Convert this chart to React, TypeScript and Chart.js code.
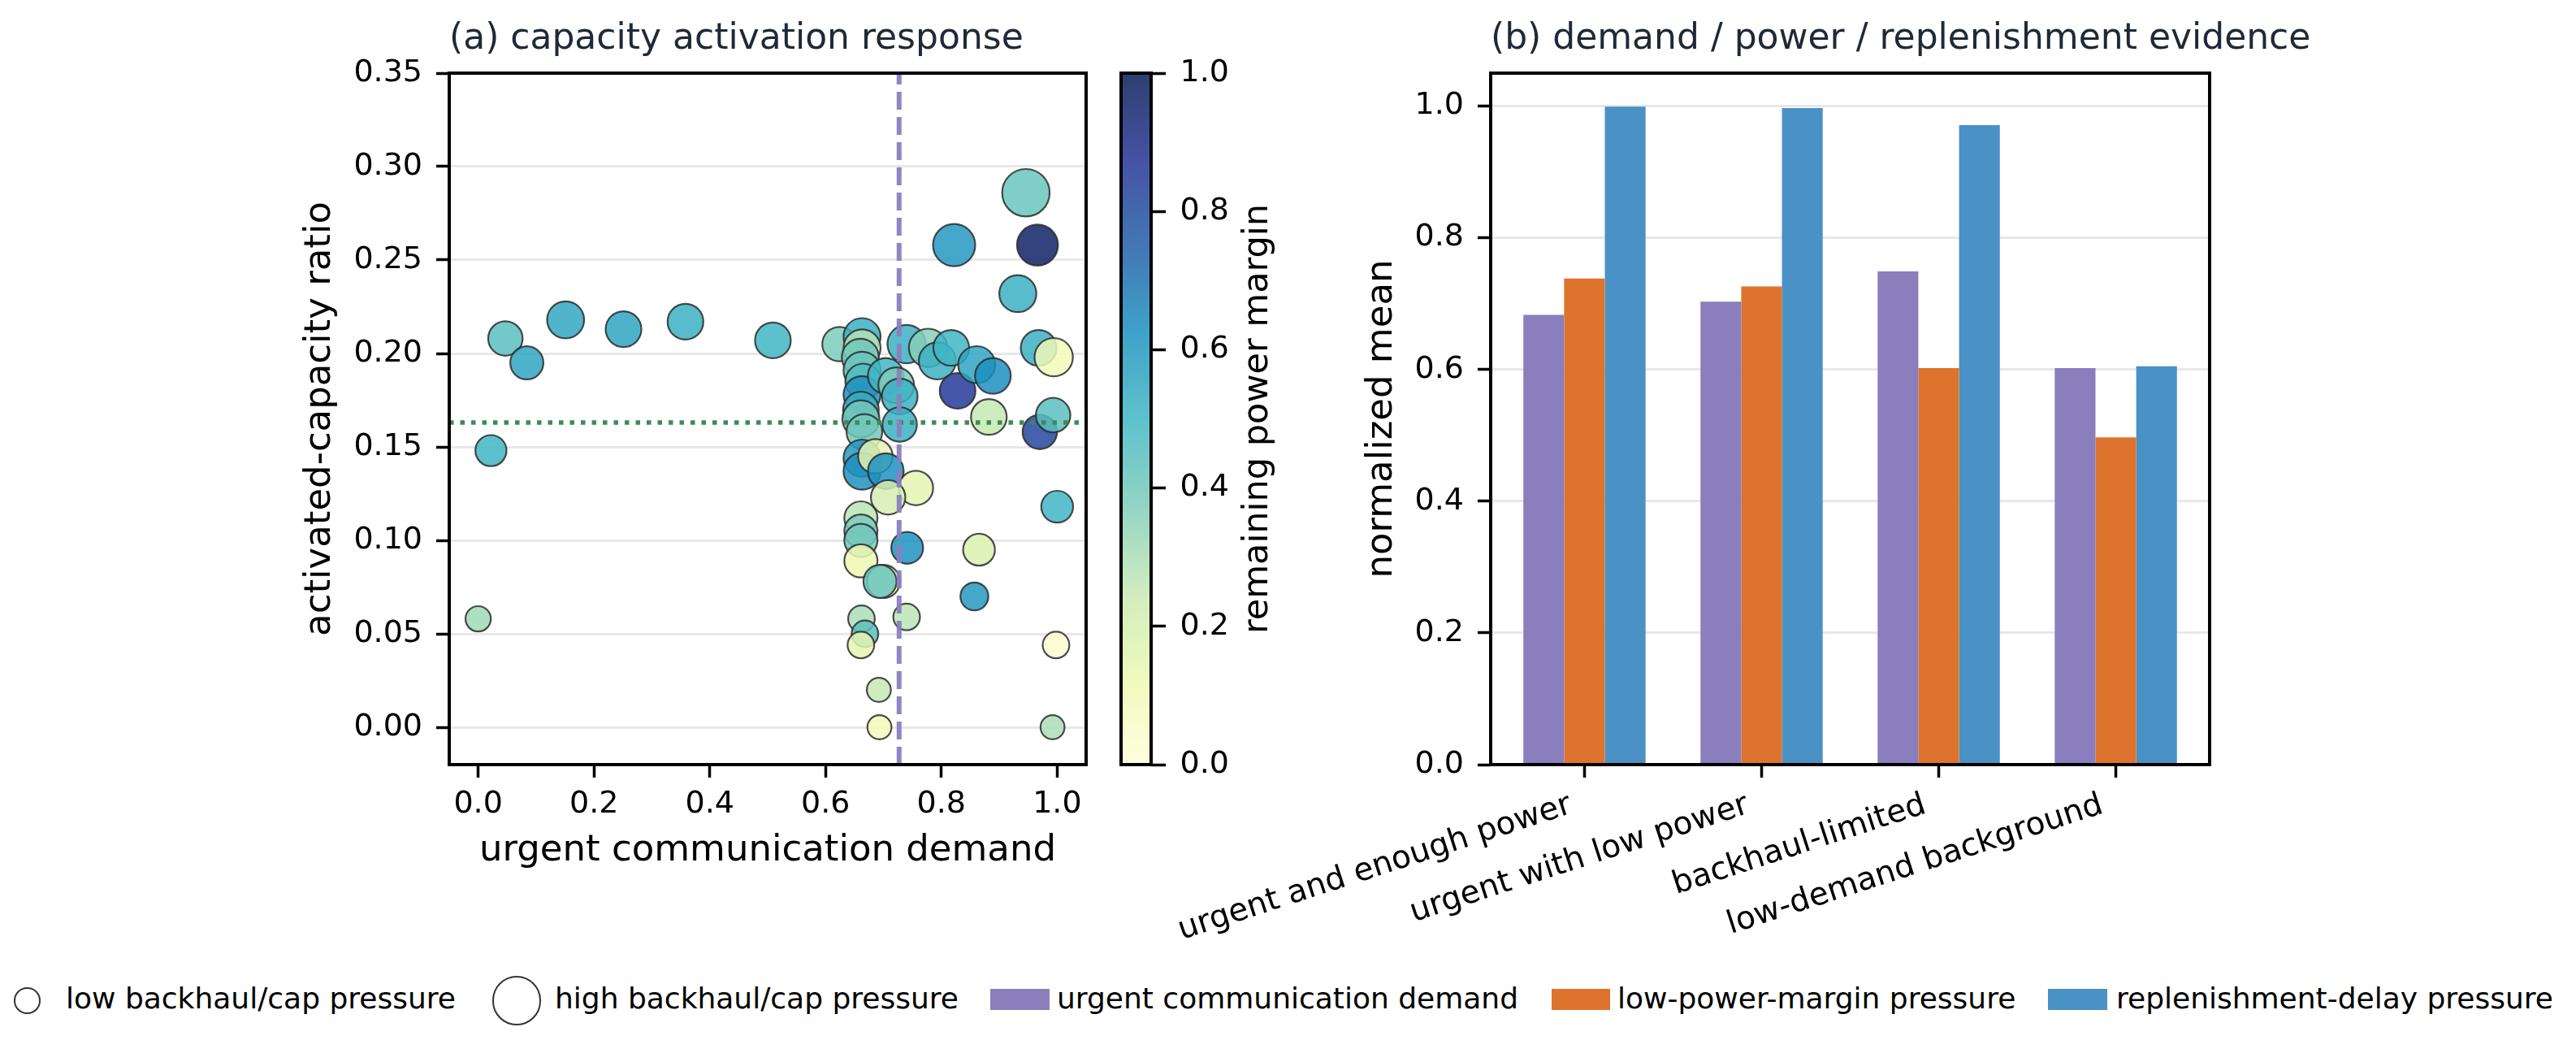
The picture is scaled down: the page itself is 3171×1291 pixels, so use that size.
import React, { useEffect, useRef } from "react";
import { Chart, registerables, ChartConfiguration, Plugin } from "chart.js";

Chart.register(...registerables);
Chart.defaults.font.family = "DejaVu Sans";
Chart.defaults.color = "#000";

// ---- panel (a): capacity activation response ----
const DEMAND = [
  0.0, 0.022, 0.047, 0.084, 0.151, 0.251, 0.358, 0.509, 0.624, 0.663,
  0.663, 0.66, 0.663, 0.665, 0.663, 0.661, 0.661, 0.667, 0.663, 0.663,
  0.686, 0.704, 0.704, 0.722, 0.728, 0.728, 0.74, 0.777, 0.793, 0.817,
  0.828, 0.861, 0.889, 0.882, 0.932, 0.968, 0.994, 0.97, 0.993, 1.0,
  0.946, 0.966, 0.822, 0.756, 0.708, 0.661, 0.661, 0.661, 0.661, 0.7,
  0.694, 0.741, 0.865, 0.857, 0.662, 0.74, 0.668, 0.661, 0.692, 0.693,
  0.998, 0.992,
];
const ACTIVATED = [
  0.058, 0.148, 0.208, 0.195, 0.218, 0.213, 0.217, 0.207, 0.205, 0.209,
  0.203, 0.198, 0.191, 0.185, 0.178, 0.17, 0.165, 0.158, 0.144, 0.137,
  0.145, 0.137, 0.188, 0.183, 0.177, 0.162, 0.205, 0.203, 0.196, 0.203,
  0.18, 0.194, 0.188, 0.166, 0.232, 0.203, 0.198, 0.158, 0.167, 0.118,
  0.286, 0.258, 0.258, 0.128, 0.123, 0.112, 0.105, 0.1, 0.089, 0.078,
  0.078, 0.096, 0.095, 0.07, 0.058, 0.059, 0.05, 0.044, 0.02, 0.0,
  0.044, 0.0,
];
// remaining power margin (colour)
const MARGIN = [
  0.32, 0.5, 0.45, 0.56, 0.55, 0.56, 0.52, 0.5, 0.38, 0.52,
  0.28, 0.4, 0.42, 0.47, 0.62, 0.53, 0.4, 0.4, 0.6, 0.62,
  0.15, 0.62, 0.5, 0.38, 0.52, 0.52, 0.52, 0.36, 0.52, 0.5,
  0.86, 0.56, 0.63, 0.25, 0.52, 0.52, 0.1, 0.82, 0.45, 0.5,
  0.42, 0.97, 0.6, 0.15, 0.2, 0.27, 0.38, 0.4, 0.12, 0.08,
  0.42, 0.62, 0.18, 0.6, 0.3, 0.27, 0.45, 0.15, 0.25, 0.1,
  0.03, 0.3,
];
// backhaul / cap pressure (marker size)
const PRESSURE = [
  0.1, 0.32, 0.45, 0.4, 0.55, 0.5, 0.5, 0.5, 0.45, 0.55,
  0.55, 0.55, 0.55, 0.5, 0.55, 0.5, 0.55, 0.5, 0.55, 0.55,
  0.45, 0.5, 0.5, 0.5, 0.5, 0.45, 0.6, 0.6, 0.55, 0.5,
  0.5, 0.55, 0.5, 0.5, 0.55, 0.5, 0.6, 0.45, 0.45, 0.35,
  0.95, 0.7, 0.75, 0.45, 0.45, 0.4, 0.4, 0.4, 0.4, 0.4,
  0.4, 0.35, 0.35, 0.2, 0.15, 0.15, 0.15, 0.15, 0.05, 0.05,
  0.15, 0.05,
];
const DEMAND_THRESHOLD = 0.727;
const RATIO_THRESHOLD = 0.163;
const X_TICKS_A = [0, 0.2, 0.4, 0.6, 0.8, 1.0];
const Y_TICKS_A = [0, 0.05, 0.1, 0.15, 0.2, 0.25, 0.3, 0.35];
const CBAR_TICKS = [0, 0.2, 0.4, 0.6, 0.8, 1.0];

// ---- panel (b): demand / power / replenishment evidence ----
const GROUPS = [
  "urgent and enough power",
  "urgent with low power",
  "backhaul-limited",
  "low-demand background",
];
const URGENT = [0.683, 0.703, 0.749, 0.602];
const LOW_POWER = [0.738, 0.726, 0.602, 0.497];
const REPLENISH = [0.999, 0.997, 0.971, 0.605];
const Y_TICKS_B = [0, 0.2, 0.4, 0.6, 0.8, 1.0];

const PURPLE = "#8a7fbc";
const ORANGE = "#de732d";
const BLUE = "#4a91c6";
const GREEN = "#3d8b55";
const GRID = "#e8e8e8";

const YLGNBU = [
  "#ffffd9", "#edf8b1", "#c7e9b4", "#7fcdbb", "#41b6c4",
  "#1d91c0", "#225ea8", "#253494", "#081d58",
];

function hexRgb(h: string): number[] {
  return [1, 3, 5].map((i) => parseInt(h.slice(i, i + 2), 16));
}

function ylgnbu(t: number, alpha = 0.85): string {
  const n = YLGNBU.length - 1;
  const p = Math.min(Math.max(t, 0), 1) * n;
  const i = Math.min(Math.floor(p), n - 1);
  const f = p - i;
  const a = hexRgb(YLGNBU[i]);
  const b = hexRgb(YLGNBU[i + 1]);
  const c = a.map((v, k) => Math.round(v + (b[k] - v) * f));
  return `rgba(${c[0]},${c[1]},${c[2]},${alpha})`;
}

const tickFont = { size: 38, lineHeight: 1.2 };
const labelFont = { size: 45, lineHeight: 1.2 };

// full box around the axes, plus panel title / rotated side label
function framePlugin(title?: string, side?: { text: string; dx: number }): Plugin {
  return {
    id: "frame",
    afterDatasetsDraw(chart) {
      const { ctx, chartArea: a } = chart;
      ctx.save();
      ctx.strokeStyle = "#000";
      ctx.lineWidth = 4;
      ctx.strokeRect(a.left, a.top, a.right - a.left, a.bottom - a.top);
      if (title) {
        ctx.font = "44px 'DejaVu Sans'";
        ctx.fillStyle = "#1f2937";
        ctx.textAlign = "left";
        ctx.textBaseline = "alphabetic";
        ctx.fillText(title, a.left, 59.5);
      }
      if (side) {
        ctx.translate(a.right + side.dx, (a.top + a.bottom) / 2);
        ctx.rotate(-Math.PI / 2);
        ctx.font = "43px 'DejaVu Sans'";
        ctx.fillStyle = "#000";
        ctx.textAlign = "center";
        ctx.textBaseline = "middle";
        ctx.fillText(side.text, 0, 0);
      }
      ctx.restore();
    },
  };
}

const ScatterPanel: React.FC = () => {
  const ref = useRef<HTMLCanvasElement>(null);
  useEffect(() => {
    if (!ref.current) return;
    const points = DEMAND.map((x, i) => ({ x, y: ACTIVATED[i] }));
    const config: ChartConfiguration = {
      type: "scatter",
      data: {
        datasets: [
          {
            data: [
              { x: DEMAND_THRESHOLD, y: -0.02 },
              { x: DEMAND_THRESHOLD, y: 0.35 },
            ],
            showLine: true,
            borderColor: "rgba(138,127,190,0.95)",
            borderWidth: 6,
            borderDash: [22, 9],
            pointRadius: 0,
          } as any,
          {
            data: [
              { x: -0.05, y: RATIO_THRESHOLD },
              { x: 1.05, y: RATIO_THRESHOLD },
            ],
            showLine: true,
            borderColor: GREEN,
            borderWidth: 5.5,
            borderDash: [5.5, 8],
            pointRadius: 0,
          } as any,
          {
            data: points,
            pointRadius: PRESSURE.map((p) => 14 + 16 * p),
            pointBackgroundColor: MARGIN.map((m) => ylgnbu(m)),
            pointBorderColor: "rgba(45,45,45,0.85)",
            pointBorderWidth: 2.2,
          } as any,
        ],
      },
      options: {
        responsive: false,
        animation: false,
        events: [],
        layout: { padding: { top: 90, right: 63, bottom: 0, left: 0 } },
        plugins: { legend: { display: false }, tooltip: { enabled: false } },
        scales: {
          x: {
            type: "linear",
            min: -0.05,
            max: 1.05,
            afterBuildTicks: (s: any) => {
              s.ticks = X_TICKS_A.map((value) => ({ value }));
            },
            afterFit: (s: any) => {
              s.height = 159;
            },
            ticks: {
              font: tickFont,
              padding: 10,
              callback: (v: any) => Number(v).toFixed(1),
            },
            grid: {
              drawOnChartArea: false,
              drawTicks: true,
              tickLength: 16,
              color: "#000",
              tickColor: "#000",
              tickWidth: 3.5,
            },
            border: { display: false },
            title: {
              display: true,
              text: "urgent communication demand",
              font: labelFont,
              padding: { top: 0, bottom: 25.5 },
            },
          },
          y: {
            type: "linear",
            min: -0.02,
            max: 0.35,
            afterBuildTicks: (s: any) => {
              s.ticks = Y_TICKS_A.map((value) => ({ value }));
            },
            afterFit: (s: any) => {
              s.width = 553;
            },
            ticks: {
              font: tickFont,
              padding: 17,
              callback: (v: any) => Number(v).toFixed(2),
            },
            grid: {
              color: GRID,
              lineWidth: 3,
              drawTicks: true,
              tickLength: 16,
              tickColor: "#000",
              tickWidth: 3.5,
            },
            border: { display: false },
            title: {
              display: true,
              text: "activated-capacity ratio",
              font: labelFont,
              padding: { top: 367, bottom: 0 },
            },
          },
        },
      },
      plugins: [framePlugin("(a) capacity activation response")],
    };
    const chart = new Chart(ref.current, config);
    return () => chart.destroy();
  }, []);
  return (
    <canvas
      ref={ref}
      width={1400}
      height={1100}
      style={{ position: "absolute", left: 0, top: 0, width: 1400, height: 1100 }}
    />
  );
};

const ColorbarPanel: React.FC = () => {
  const ref = useRef<HTMLCanvasElement>(null);
  useEffect(() => {
    if (!ref.current) return;
    const config: ChartConfiguration = {
      type: "bar",
      data: {
        labels: [""],
        datasets: [
          {
            data: [1],
            borderWidth: 0,
            barPercentage: 1,
            categoryPercentage: 1,
            backgroundColor: (c: any) => {
              const area = c.chart.chartArea;
              if (!area) return "#ccc";
              const g = c.chart.ctx.createLinearGradient(0, area.bottom, 0, area.top);
              for (let i = 0; i <= 40; i++) g.addColorStop(i / 40, ylgnbu(i / 40));
              return g;
            },
          } as any,
        ],
      },
      options: {
        responsive: false,
        animation: false,
        events: [],
        layout: { padding: { top: 90, right: 0, bottom: 159, left: 20 } },
        plugins: { legend: { display: false }, tooltip: { enabled: false } },
        scales: {
          x: { display: false },
          y: {
            position: "right",
            min: 0,
            max: 1,
            afterBuildTicks: (s: any) => {
              s.ticks = CBAR_TICKS.map((value) => ({ value }));
            },
            afterFit: (s: any) => {
              s.width = 203;
            },
            ticks: {
              font: tickFont,
              padding: 17.5,
              callback: (v: any) => Number(v).toFixed(1),
            },
            grid: {
              drawOnChartArea: false,
              drawTicks: true,
              tickLength: 18,
              color: "#000",
              tickColor: "#000",
              tickWidth: 3.5,
            },
            border: { display: false },
          },
        },
      },
      plugins: [framePlugin(undefined, { text: "remaining power margin", dx: 132 })],
    };
    const chart = new Chart(ref.current, config);
    return () => chart.destroy();
  }, []);
  return (
    <canvas
      ref={ref}
      width={260}
      height={1100}
      style={{ position: "absolute", left: 1360, top: 0, width: 260, height: 1100 }}
    />
  );
};

const BarPanel: React.FC = () => {
  const ref = useRef<HTMLCanvasElement>(null);
  useEffect(() => {
    if (!ref.current) return;
    const series = (vals: number[]) => vals.map((y, x) => ({ x, y }));
    const config: ChartConfiguration = {
      type: "bar",
      data: {
        datasets: [
          { label: "urgent communication demand", data: series(URGENT), backgroundColor: PURPLE },
          { label: "low-power-margin pressure", data: series(LOW_POWER), backgroundColor: ORANGE },
          { label: "replenishment-delay pressure", data: series(REPLENISH), backgroundColor: BLUE },
        ] as any,
      },
      options: {
        responsive: false,
        animation: false,
        events: [],
        datasets: { bar: { barPercentage: 1, categoryPercentage: 0.69, borderWidth: 0 } },
        layout: { padding: { top: 90, right: 160, bottom: 0, left: 0 } },
        plugins: { legend: { display: false }, tooltip: { enabled: false } },
        scales: {
          x: {
            type: "linear",
            offset: false,
            min: -0.5295,
            max: 3.5295,
            afterBuildTicks: (s: any) => {
              s.ticks = GROUPS.map((_, value) => ({ value }));
            },
            afterFit: (s: any) => {
              s.height = 239;
            },
            ticks: {
              font: { size: 39, lineHeight: 1.2 },
              padding: 10.9,
              labelOffset: -16.9,
              autoSkip: false,
              minRotation: 18,
              maxRotation: 18,
              callback: (v: any) => GROUPS[Math.round(Number(v))] ?? "",
            },
            grid: {
              offset: false,
              drawOnChartArea: false,
              drawTicks: true,
              tickLength: 16,
              color: "#000",
              tickColor: "#000",
              tickWidth: 3.5,
            },
            border: { display: false },
          },
          y: {
            min: 0,
            max: 1.05,
            afterBuildTicks: (s: any) => {
              s.ticks = Y_TICKS_B.map((value) => ({ value }));
            },
            afterFit: (s: any) => {
              s.width = 455;
            },
            ticks: {
              font: tickFont,
              padding: 17,
              callback: (v: any) => Number(v).toFixed(1),
            },
            grid: {
              color: GRID,
              lineWidth: 3,
              drawTicks: true,
              tickLength: 16,
              tickColor: "#000",
              tickWidth: 3.5,
            },
            border: { display: false },
            title: {
              display: true,
              text: "normalized mean",
              font: labelFont,
              padding: { top: 294, bottom: 0 },
            },
          },
        },
      },
      plugins: [framePlugin("(b) demand / power / replenishment evidence")],
    };
    const chart = new Chart(ref.current, config);
    return () => chart.destroy();
  }, []);
  return (
    <canvas
      ref={ref}
      width={1500}
      height={1180}
      style={{ position: "absolute", left: 1380, top: 0, width: 1500, height: 1180 }}
    />
  );
};

const legendText: React.CSSProperties = {
  position: "absolute",
  top: 1210.5,
  fontFamily: "'DejaVu Sans'",
  fontSize: 36,
  lineHeight: "36px",
  whiteSpace: "nowrap",
  color: "#000",
};

const circle = (cx: number, r: number): React.CSSProperties => ({
  position: "absolute",
  left: cx - r - 1.25,
  top: 1231.6 - r - 1.25,
  width: 2 * r + 2.5,
  height: 2 * r + 2.5,
  boxSizing: "border-box",
  border: "2.5px solid #333",
  borderRadius: "50%",
  background: "#fff",
});

const patch = (left: number, width: number, color: string): React.CSSProperties => ({
  position: "absolute",
  left,
  top: 1217,
  width,
  height: 26,
  background: color,
});

const Legend: React.FC = () => (
  <>
    <div style={circle(33.7, 15)} />
    <div style={{ ...legendText, left: 81 }}>low backhaul/cap pressure</div>
    <div style={circle(636, 29)} />
    <div style={{ ...legendText, left: 683 }}>high backhaul/cap pressure</div>
    <div style={patch(1219, 73, PURPLE)} />
    <div style={{ ...legendText, left: 1301 }}>urgent communication demand</div>
    <div style={patch(1910, 72, ORANGE)} />
    <div style={{ ...legendText, left: 1991 }}>low-power-margin pressure</div>
    <div style={patch(2521, 73, BLUE)} />
    <div style={{ ...legendText, left: 2605 }}>replenishment-delay pressure</div>
  </>
);

const App: React.FC = () => (
  <div
    style={{
      position: "absolute",
      left: 0,
      top: 0,
      width: 3171,
      height: 1291,
      background: "#fff",
      overflow: "hidden",
    }}
  >
    <ScatterPanel />
    <ColorbarPanel />
    <BarPanel />
    <Legend />
  </div>
);

export default App;
